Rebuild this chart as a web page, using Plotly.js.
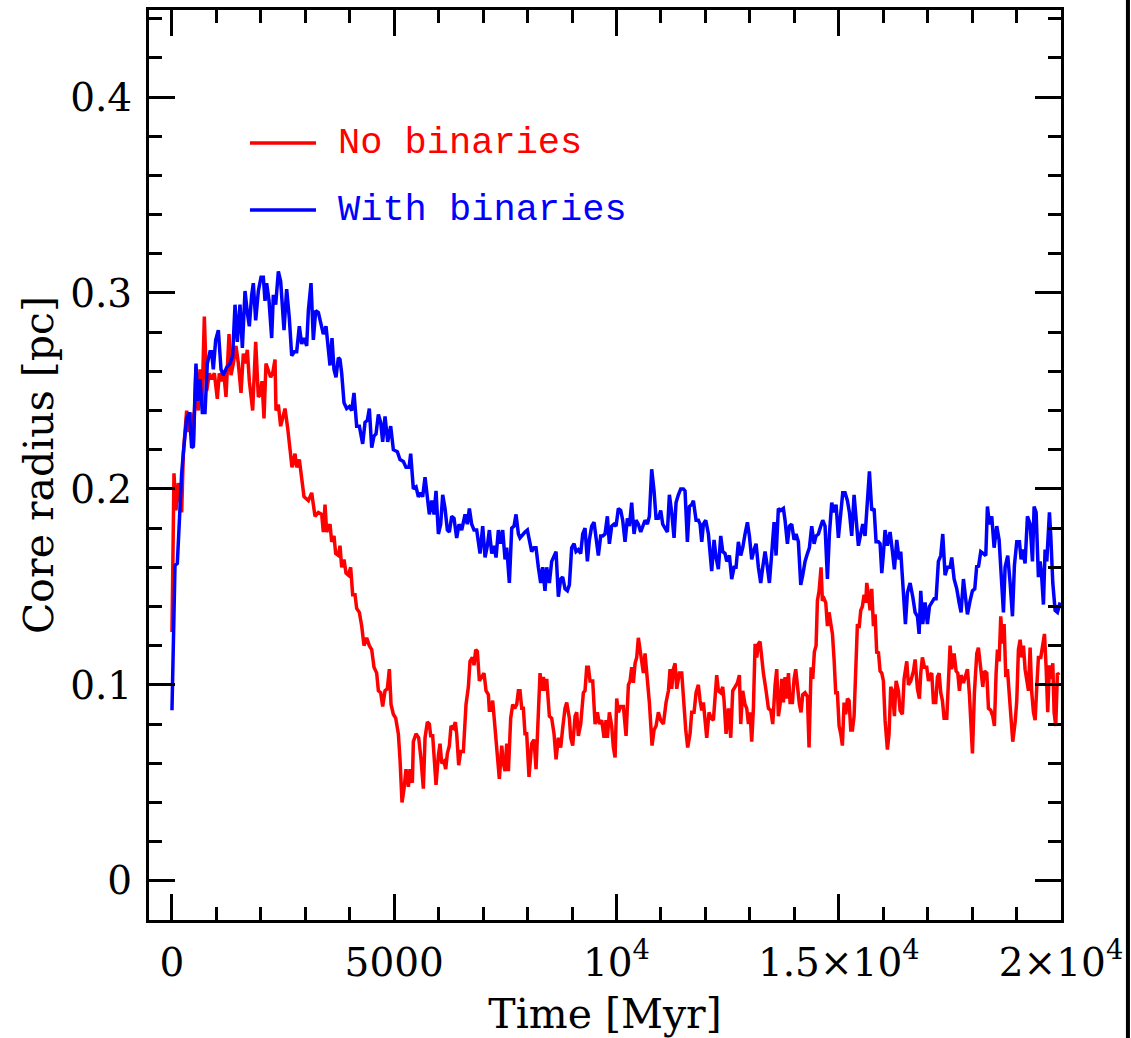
<!DOCTYPE html>
<html>
<head>
<meta charset="utf-8">
<script src="https://cdn.plot.ly/plotly-3.0.1.min.js"></script>
<style>html,body{margin:0;padding:0;background:#fff;}#chart{width:1131px;height:1038px;}</style>
</head>
<body>
<div id="chart"></div>
<script>
// ---- Data (Time in Myr, core radius in pc) ----
const timeNoBin = [0,45,90,143,218,255,330,368,420,480,540,593,630,675,728,780,840,893,953,1020,1065,1118,1170,1215,1283,1328,1380,1440,1493,1553,1605,1650,1695,1740,1815,1883,1943,1980,2025,2070,2115,2168,2220,2265,2318,2340,2393,2445,2543,2603,2655,2700,2768,2805,2865,2918,2970,3068,3143,3218,3293,3368,3405,3443,3480,3555,3593,3645,3683,3743,
3780,3818,3870,3915,3968,4020,4065,4118,4155,4215,4268,4320,4380,4440,4493,4545,4605,4643,4695,4740,4793,4845,4890,4928,4980,5033,5093,5130,5175,5220,5265,5318,5355,5408,5430,5490,5550,5603,5655,5693,5745,5790,5820,5865,5895,5940,5993,6030,6068,6120,6158,6195,6240,6278,6330,6375,6405,6450,6495,6555,6615,6668,6705,6758,6795,6833,6870,6915,6968,7020,7065,7118,7140,7170,7215,7268,7320,7365,7418,7455,7493,7530,7568,7620,7665,7710,7755,7793,
7830,7868,7905,7942,7980,8032,8092,8145,8190,8242,8280,8318,8355,8392,8430,8490,8542,8595,8640,8692,8745,8790,8842,8880,8940,8970,9015,9068,9105,9142,9195,9255,9292,9330,9368,9405,9465,9518,9570,9615,9668,9720,9765,9795,9840,9892,9930,9968,10005,10042,10095,10155,10215,10268,10305,10342,10380,10418,10455,10492,10530,10568,10605,10642,10680,10740,10800,10845,10890,10942,10995,11055,11115,11168,11205,11242,11280,11318,11355,11415,11468,11505,11558,11602,11655,11692,11745,11790,11842,
11880,11918,11955,11992,12030,12082,12128,12180,12218,12255,12292,12345,12390,12420,12465,12518,12570,12615,12668,12720,12765,12795,12840,12892,12930,12968,13005,13042,13080,13118,13155,13192,13230,13268,13305,13365,13418,13470,13515,13568,13605,13642,13680,13718,13755,13792,13830,13868,13905,13958,13995,14032,14078,14115,14152,14190,14242,14295,14332,14378,14415,14452,14490,14520,14558,14602,14632,14670,14708,14745,14782,14820,14858,14895,14932,14970,15008,15045,15082,15120,15158,15195,15232,15270,15308,15345,15390,15420,15458,15495,15532,15570,15608,15630,15668,15705,15742,15780,15818,15855,15892,
15930,15968,16005,16042,16095,16132,16170,16208,16252,16290,16342,16380,16432,16470,16530,16568,16620,16680,16718,16770,16815,16845,16882,16928,16980,17018,17055,17092,17130,17182,17220,17258,17295,17332,17370,17430,17468,17505,17542,17595,17640,17678,17715,17752,17805,17858,17895,17940,18008,18052,18105,18142,18195,18240,18278,18330,18368,18420,18465,18502,18540,18570,18608,18645,18682,18720,18758,18795,18840,18878,18915,18968,19005,19042,19080,19118,19155,19192,19230,19268,19305,19342,19380,19418,19455,19492,19545,19582,19628,19665,19702,19740,19778,19815,19845,19882,19920,19958];
const radiusNoBin = [0.127,0.208,0.189,0.203,0.188,0.218,0.240,0.229,0.239,0.221,0.262,0.240,0.261,0.243,0.288,0.250,0.259,0.256,0.259,0.246,0.259,0.255,0.258,0.247,0.279,0.258,0.264,0.273,0.264,0.249,0.269,0.264,0.271,0.255,0.240,0.275,0.247,0.248,0.255,0.236,0.264,0.261,0.257,0.259,0.266,0.240,0.243,0.232,0.241,0.231,0.218,0.211,0.218,0.211,0.215,0.206,0.196,0.194,0.198,0.186,0.188,0.187,0.178,0.192,0.178,0.182,0.173,0.176,0.167,0.166,
0.171,0.160,0.164,0.157,0.156,0.160,0.146,0.146,0.139,0.137,0.130,0.120,0.124,0.120,0.118,0.109,0.106,0.097,0.096,0.089,0.097,0.098,0.108,0.090,0.085,0.083,0.075,0.062,0.040,0.047,0.057,0.048,0.057,0.050,0.071,0.075,0.073,0.062,0.047,0.073,0.081,0.080,0.074,0.074,0.064,0.049,0.064,0.070,0.060,0.061,0.057,0.065,0.069,0.079,0.078,0.081,0.075,0.059,0.066,0.066,0.090,0.099,0.112,0.114,0.110,0.118,0.117,0.102,0.104,0.106,0.097,0.095,0.087,0.087,0.092,0.076,0.062,0.052,0.069,0.060,0.056,0.070,0.056,0.083,0.090,0.088,0.090,0.097,
0.097,0.088,0.088,0.075,0.075,0.053,0.070,0.072,0.057,0.086,0.106,0.097,0.104,0.097,0.103,0.084,0.083,0.075,0.062,0.073,0.068,0.078,0.088,0.091,0.083,0.073,0.069,0.084,0.086,0.074,0.080,0.096,0.097,0.109,0.109,0.102,0.102,0.080,0.086,0.080,0.082,0.073,0.082,0.073,0.086,0.079,0.068,0.063,0.093,0.086,0.089,0.089,0.074,0.100,0.102,0.109,0.101,0.111,0.114,0.124,0.118,0.113,0.106,0.116,0.106,0.091,0.069,0.077,0.079,0.086,0.082,0.080,0.091,0.097,0.108,0.098,0.108,0.111,0.098,0.106,0.106,0.091,0.077,0.068,0.075,0.086,0.086,0.096,0.100,
0.092,0.087,0.091,0.080,0.073,0.086,0.083,0.082,0.093,0.105,0.097,0.096,0.099,0.092,0.075,0.088,0.073,0.097,0.099,0.101,0.105,0.080,0.097,0.090,0.088,0.080,0.086,0.071,0.088,0.121,0.114,0.121,0.122,0.113,0.106,0.097,0.088,0.087,0.080,0.100,0.108,0.084,0.090,0.103,0.091,0.104,0.093,0.106,0.091,0.091,0.103,0.108,0.095,0.090,0.086,0.095,0.096,0.094,0.068,0.109,0.103,0.117,0.120,0.143,0.148,0.160,0.143,0.144,0.142,0.130,0.137,0.130,0.126,0.113,0.096,0.096,0.079,0.075,0.069,0.091,0.085,0.093,0.092,0.077,0.077,0.084,0.109,0.131,0.129,0.138,0.140,0.146,0.142,0.152,0.146,0.138,0.149,0.130,0.136,0.116,0.117,
0.107,0.106,0.102,0.082,0.067,0.075,0.099,0.097,0.084,0.102,0.097,0.087,0.085,0.103,0.112,0.100,0.102,0.107,0.113,0.098,0.093,0.106,0.114,0.109,0.109,0.102,0.105,0.106,0.091,0.091,0.104,0.106,0.096,0.092,0.083,0.083,0.102,0.120,0.108,0.116,0.107,0.106,0.097,0.105,0.101,0.106,0.108,0.095,0.065,0.096,0.116,0.119,0.109,0.099,0.107,0.106,0.088,0.087,0.084,0.079,0.106,0.118,0.112,0.135,0.121,0.131,0.104,0.108,0.094,0.082,0.071,0.081,0.092,0.118,0.123,0.114,0.120,0.108,0.102,0.097,0.119,0.096,0.086,0.082,0.099,0.114,0.114,0.121,0.126,0.109,0.086,0.110,0.103,0.111,0.086,0.079,0.106,0.105];

const timeBin = [0,30,68,120,165,218,270,330,390,443,480,540,578,630,683,743,795,855,893,930,983,1043,1103,1155,1230,1305,1365,1418,1470,1530,1583,1643,1695,1740,1793,1830,1883,1943,2003,2055,2093,2130,2183,2243,2280,2333,2393,2445,2520,2580,2640,2693,2753,2805,2865,2918,2970,3030,3068,3128,3180,3233,3293,3353,3405,3465,3518,3555,3600,3645,3690,3743,
3780,3818,3870,3930,3990,4043,4095,4155,4215,4290,4343,4395,4440,4493,4545,4590,4643,4695,4740,4793,4853,4920,4980,5070,5130,5205,5265,5333,5370,5430,5490,5543,5595,5640,5693,5745,5790,5843,5895,5940,5993,6045,6090,6143,6195,6240,6293,6345,6405,6458,6518,6593,6645,6690,6743,6795,6855,6930,6990,7043,7095,7140,7193,7245,7290,7343,7395,7440,7493,7530,7590,7643,7695,7740,7793,
7830,7890,7942,7995,8040,8092,8145,8190,8242,8295,8340,8392,8430,8490,8542,8595,8640,8692,8745,8790,8842,8895,8940,8992,9045,9090,9142,9195,9240,9292,9345,9390,9442,9495,9540,9592,9645,9690,9742,9795,9840,9892,9945,9990,10042,10095,10140,10192,10245,10290,10342,10395,10440,10492,10545,10590,10642,10695,10740,10792,10845,10890,10942,10995,11040,11092,11145,11190,11242,11295,11340,11392,11445,11505,11542,11595,11640,11692,11730,11790,11842,
11880,11918,11955,12008,12068,12142,12195,12240,12292,12345,12390,12442,12480,12540,12592,12645,12690,12742,12795,12840,12892,12945,12990,13042,13095,13140,13192,13245,13290,13342,13395,13440,13492,13545,13590,13642,13695,13755,13792,13845,13890,13942,13995,14040,14092,14145,14190,14242,14295,14340,14392,14445,14490,14542,14595,14640,14692,14745,14790,14842,14895,14940,14992,15045,15090,15142,15195,15240,15292,15345,15390,15442,15495,15540,15592,15645,15690,15742,15795,15840,15892,
15930,15968,16005,16042,16095,16155,16208,16252,16305,16358,16395,16440,16500,16545,16605,16665,16718,16770,16808,16845,16890,16942,16995,17040,17092,17145,17190,17242,17295,17340,17392,17445,17505,17542,17595,17655,17708,17752,17805,17842,17895,17955,18008,18060,18105,18142,18195,18255,18308,18345,18390,18442,18495,18555,18608,18652,18705,18742,18802,18855,18908,18952,19005,19065,19102,19140,19192,19245,19305,19358,19395,19440,19492,19530,19560,19605,19642,19680,19740,19770,19815,19868,19920,19980];
const radiusBin = [0.087,0.115,0.161,0.162,0.187,0.208,0.222,0.236,0.239,0.221,0.222,0.264,0.245,0.256,0.239,0.239,0.264,0.270,0.270,0.261,0.276,0.281,0.261,0.258,0.262,0.264,0.268,0.294,0.275,0.294,0.272,0.301,0.290,0.283,0.299,0.305,0.286,0.301,0.308,0.308,0.296,0.305,0.296,0.277,0.299,0.294,0.311,0.306,0.281,0.302,0.287,0.268,0.270,0.270,0.283,0.274,0.277,0.273,0.291,0.305,0.276,0.291,0.290,0.284,0.279,0.283,0.270,0.263,0.277,0.261,0.257,0.267,
0.266,0.259,0.244,0.241,0.242,0.240,0.249,0.232,0.232,0.223,0.234,0.235,0.241,0.221,0.227,0.228,0.238,0.234,0.224,0.237,0.224,0.232,0.220,0.219,0.215,0.214,0.211,0.211,0.218,0.200,0.201,0.196,0.198,0.196,0.206,0.196,0.187,0.194,0.187,0.199,0.177,0.182,0.197,0.190,0.179,0.178,0.186,0.185,0.175,0.182,0.179,0.187,0.182,0.190,0.182,0.179,0.179,0.167,0.181,0.165,0.171,0.179,0.167,0.171,0.165,0.179,0.172,0.179,0.164,0.170,0.152,0.180,0.181,0.187,0.177,
0.175,0.177,0.178,0.179,0.174,0.168,0.170,0.170,0.160,0.152,0.160,0.148,0.160,0.152,0.163,0.166,0.168,0.145,0.154,0.155,0.149,0.148,0.151,0.170,0.172,0.168,0.169,0.167,0.177,0.180,0.163,0.174,0.181,0.183,0.176,0.166,0.176,0.176,0.177,0.186,0.172,0.181,0.182,0.181,0.190,0.189,0.184,0.173,0.185,0.181,0.193,0.177,0.184,0.182,0.178,0.181,0.184,0.182,0.186,0.210,0.199,0.185,0.185,0.189,0.182,0.180,0.178,0.197,0.188,0.175,0.193,0.197,0.200,0.200,0.199,0.173,0.191,0.192,0.194,0.184,0.184,
0.182,0.173,0.182,0.184,0.177,0.158,0.174,0.165,0.159,0.176,0.168,0.167,0.163,0.166,0.154,0.160,0.160,0.173,0.166,0.170,0.177,0.183,0.176,0.164,0.169,0.172,0.160,0.152,0.160,0.168,0.160,0.152,0.167,0.183,0.166,0.190,0.189,0.190,0.184,0.172,0.181,0.182,0.174,0.177,0.173,0.151,0.156,0.163,0.167,0.170,0.181,0.172,0.176,0.177,0.181,0.184,0.181,0.154,0.177,0.193,0.188,0.192,0.175,0.189,0.198,0.198,0.194,0.188,0.176,0.197,0.186,0.171,0.177,0.182,0.176,0.191,0.209,0.189,0.190,0.173,0.173,
0.172,0.157,0.167,0.179,0.171,0.178,0.168,0.159,0.174,0.164,0.168,0.150,0.131,0.147,0.152,0.145,0.137,0.135,0.126,0.148,0.131,0.142,0.131,0.140,0.142,0.144,0.144,0.163,0.166,0.177,0.156,0.160,0.160,0.165,0.154,0.149,0.142,0.137,0.154,0.145,0.136,0.143,0.148,0.149,0.161,0.160,0.168,0.167,0.166,0.191,0.182,0.186,0.170,0.181,0.174,0.157,0.137,0.160,0.166,0.152,0.135,0.161,0.173,0.173,0.164,0.169,0.162,0.186,0.182,0.163,0.191,0.188,0.155,0.163,0.157,0.141,0.169,0.163,0.188,0.176,0.152,0.138,0.137,0.142];

const seriesNames = ['No binaries', 'With binaries'];
const seriesColors = ['#ff0000', '#0000ff'];
const xTickVals = [0, 5000, 10000, 15000, 20000];
const xTickText = ['0', '5000', '10<sup>4</sup>', '1.5×10<sup>4</sup>', '2×10<sup>4</sup>'];
const yTickVals = [0, 0.1, 0.2, 0.3, 0.4];
const yTickText = ['0', '0.1', '0.2', '0.3', '0.4'];

const traces = [
  {x: timeNoBin, y: radiusNoBin, name: seriesNames[0], type: 'scatter', mode: 'lines',
   line: {color: seriesColors[0], width: 3.5}},
  {x: timeBin, y: radiusBin, name: seriesNames[1], type: 'scatter', mode: 'lines',
   line: {color: seriesColors[1], width: 3.5}}
];

const serif = 'DejaVu Serif, Liberation Serif, serif';
const mono = 'Liberation Mono, DejaVu Sans Mono, monospace';

const axisCommon = {
  showline: true, linewidth: 3, linecolor: '#000', mirror: 'ticks',
  ticks: 'inside', ticklen: 26, tickwidth: 3, tickcolor: '#000',
  showgrid: false, zeroline: false, automargin: false,
  tickfont: {family: serif, size: 39, color: '#000'}
};

const layout = {
  width: 1131, height: 1038,
  margin: {l: 149, r: 70, t: 10, b: 118},
  paper_bgcolor: '#fff', plot_bgcolor: '#fff',
  showlegend: false,
  xaxis: Object.assign({}, axisCommon, {
    range: [-517, 20000],
    tickmode: 'array', tickvals: xTickVals, ticktext: xTickText,
    ticklabelstandoff: 6,
    minor: {tickmode: 'linear', tick0: 0, dtick: 1000, ticks: 'inside', ticklen: 13, tickwidth: 3, tickcolor: '#000'},
    title: {text: 'Time [Myr]', font: {family: serif, size: 41, color: '#000'}, standoff: 16}
  }),
  yaxis: Object.assign({}, axisCommon, {
    range: [-0.02, 0.4444],
    tickmode: 'array', tickvals: yTickVals, ticktext: yTickText,
    ticklabelstandoff: 6,
    minor: {tickmode: 'linear', tick0: 0, dtick: 0.02, ticks: 'inside', ticklen: 13, tickwidth: 3, tickcolor: '#000'},
    title: {text: 'Core radius [pc]', font: {family: serif, size: 41, color: '#000'}, standoff: 4}
  }),
  shapes: [
    {type: 'line', xref: 'paper', yref: 'paper', x0: 0.1107, x1: 0.1831, y0: 0.8538, y1: 0.8538,
     line: {color: seriesColors[0], width: 3.5}},
    {type: 'line', xref: 'paper', yref: 'paper', x0: 0.1107, x1: 0.1831, y0: 0.7802, y1: 0.7802,
     line: {color: seriesColors[1], width: 3.5}},
    {type: 'line', xref: 'paper', yref: 'paper', x0: 1.0734, x1: 1.0734, y0: -0.14, y1: 1.02,
     line: {color: '#000', width: 4}}
  ],
  annotations: [
    {xref: 'paper', yref: 'paper', x: 0.205, y: 0.8538, xanchor: 'left', yanchor: 'middle',
     text: seriesNames[0], showarrow: false, font: {family: mono, size: 37, color: seriesColors[0]}},
    {xref: 'paper', yref: 'paper', x: 0.205, y: 0.7802, xanchor: 'left', yanchor: 'middle',
     text: seriesNames[1], showarrow: false, font: {family: mono, size: 37, color: seriesColors[1]}}
  ]
};

Plotly.newPlot('chart', traces, layout, {staticPlot: true, displayModeBar: false});
</script>
</body>
</html>
